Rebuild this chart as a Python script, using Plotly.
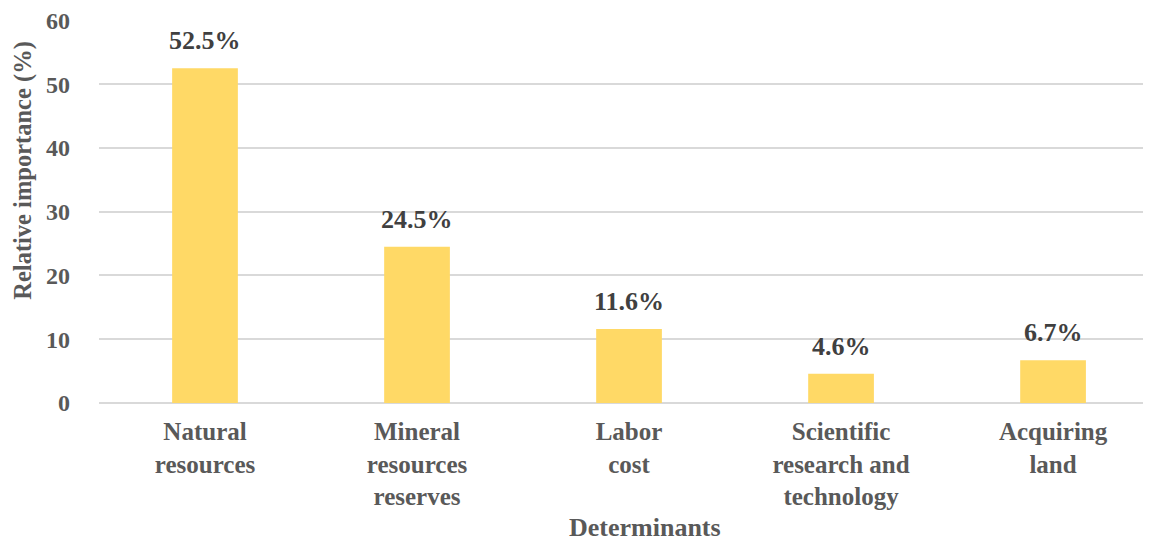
import plotly.graph_objects as go

# dati del grafico
determinants = ['Natural<br>resources', 'Mineral<br>resources<br>reserves', 'Labor<br>cost',
                'Scientific<br>research and<br>technology', 'Acquiring<br>land']
importance = [52.5, 24.5, 11.6, 4.6, 6.7]
tick_vals = [0, 10, 20, 30, 40, 50, 60]

font_family = 'Liberation Serif, Times New Roman, serif'
grey = '#595959'
dark = '#404040'

fig = go.Figure()
fig.add_trace(go.Bar(x=list(range(len(determinants))), y=importance,
                     marker=dict(color='#FFD966', line=dict(width=0)),
                     width=0.31))

# etichette dei valori sopra le barre
for i, v in enumerate(importance):
    fig.add_annotation(x=i, y=v, text='<b>%.1f%%</b>' % v, showarrow=False,
                       yanchor='bottom', yshift=11,
                       font=dict(family=font_family, size=26, color=dark))

# titoli degli assi
fig.add_annotation(xref='paper', yref='paper', x=0.519, y=-0.326, text='<b>Determinants</b>',
                   showarrow=False, xanchor='center', yanchor='middle',
                   font=dict(family=font_family, size=26, color=grey))
fig.add_annotation(xref='paper', yref='paper', x=-0.073, y=0.607, text='<b>Relative importance (%)</b>',
                   showarrow=False, textangle=-90, xanchor='center', yanchor='middle',
                   font=dict(family=font_family, size=24.5, color=grey))

# la pagina ha un margine di 8px attorno al grafico
fig.update_layout(
    width=1143, height=534,
    margin=dict(l=91, r=0, t=12, b=139),
    plot_bgcolor='white', paper_bgcolor='white',
    showlegend=False,
    font=dict(family=font_family, color=grey),
    xaxis=dict(range=[-0.5, 4.462], tickmode='array',
               tickvals=list(range(len(determinants))),
               ticktext=['<b>%s</b>' % d for d in determinants],
               tickfont=dict(size=25, color=grey), automargin=False,
               showgrid=False, zeroline=False, showline=False, ticks='',
               ticklabelstandoff=11),
    yaxis=dict(range=[0, 60.05], tickmode='array', tickvals=tick_vals,
               ticktext=['<b>%d</b>' % t for t in tick_vals],
               tickfont=dict(size=24, color=grey), automargin=False,
               ticklabeloverflow='allow',
               showgrid=True, gridcolor='#D9D9D9', gridwidth=1.5,
               zeroline=True, zerolinecolor='#D9D9D9', zerolinewidth=1.5,
               showline=False, ticklabelstandoff=28),
)

fig.write_html('out.html')
